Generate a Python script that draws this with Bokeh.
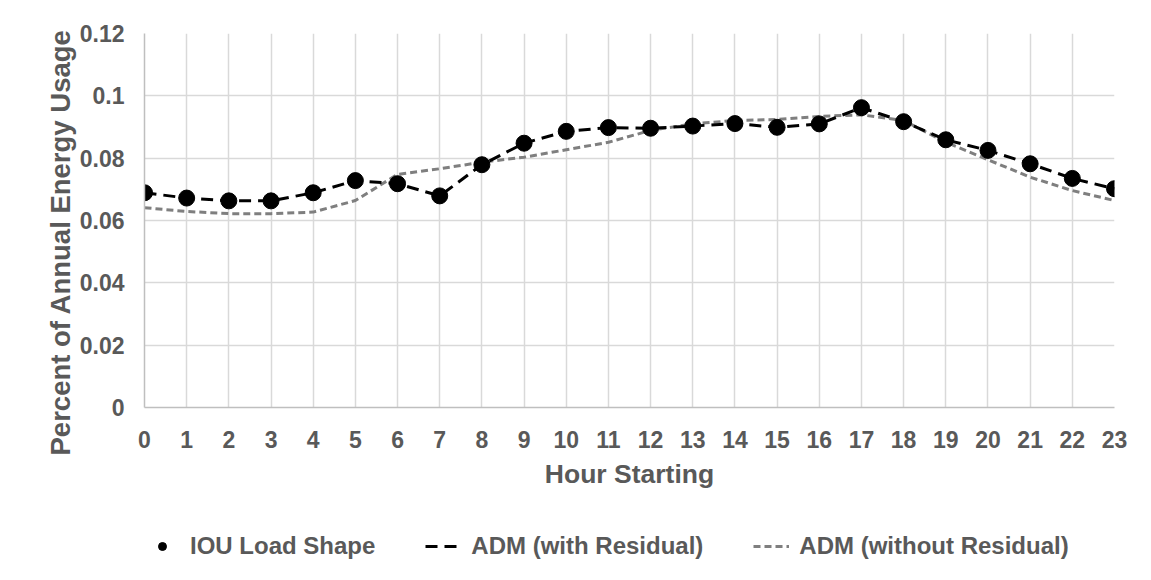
from bokeh.plotting import figure
from bokeh.layouts import column
from bokeh.models import FixedTicker, CustomJSTickFormatter, Legend, LegendItem, Range1d, Title
from bokeh.embed import file_html
from bokeh.resources import INLINE

hours = list(range(24))
iou_load_shape = [0.0689, 0.0672, 0.0663, 0.0663, 0.0689, 0.0728, 0.0718, 0.0679,
                  0.0779, 0.0848, 0.0886, 0.0898, 0.0896, 0.0903, 0.0911, 0.0899,
                  0.0910, 0.0962, 0.0917, 0.0859, 0.0825, 0.0782, 0.0735, 0.0702]
adm_with_residual = [0.0689, 0.0672, 0.0663, 0.0663, 0.0689, 0.0728, 0.0718, 0.0679,
                     0.0779, 0.0848, 0.0886, 0.0898, 0.0896, 0.0903, 0.0911, 0.0899,
                     0.0910, 0.0962, 0.0917, 0.0859, 0.0825, 0.0782, 0.0735, 0.0702]
adm_without_residual = [0.0641, 0.0629, 0.0622, 0.0622, 0.0627, 0.0664, 0.0748, 0.0766,
                        0.0787, 0.0803, 0.0827, 0.0851, 0.0889, 0.0910, 0.0921, 0.0924,
                        0.0934, 0.0939, 0.0921, 0.0851, 0.0795, 0.0739, 0.0696, 0.0664]
y_ticks = [0, 0.02, 0.04, 0.06, 0.08, 0.10, 0.12]
series_names = ["IOU Load Shape", "ADM (with Residual)", "ADM (without Residual)"]

FONT = "Liberation Sans"
TXT = "#595959"

p = figure(width=1151, height=491, output_backend="svg", toolbar_location=None,
           x_range=Range1d(0, 23), y_range=Range1d(0, 0.12),
           min_border_left=144, min_border_right=37, min_border_top=33, min_border_bottom=84)
p.outline_line_color = None

p.xaxis.ticker = FixedTicker(ticks=hours)
p.yaxis.ticker = FixedTicker(ticks=y_ticks)
p.yaxis.formatter = CustomJSTickFormatter(code="return tick === 0 ? '0' : String(parseFloat(tick.toFixed(2)));")

for ax in (p.xaxis[0], p.yaxis[0]):
    ax.major_tick_line_color = None
    ax.minor_tick_line_color = None
    ax.axis_line_color = "#bfbfbf"
    ax.axis_line_width = 1.5
    ax.major_label_text_font = FONT
    ax.major_label_text_font_style = "bold"
    ax.major_label_text_font_size = "23px"
    ax.major_label_text_color = TXT
    ax.axis_label_text_font = FONT
    ax.axis_label_text_font_style = "bold"
    ax.axis_label_text_font_size = "26.5px"
    ax.axis_label_text_color = TXT

p.xaxis.axis_label = "Hour Starting"
p.xaxis.major_label_standoff = 17
p.yaxis.major_label_standoff = 14
p.xaxis.axis_label_standoff = 8

ytitle = Title(text="Percent of Annual Energy Usage", align="left", offset=-48,
               text_font=FONT, text_font_style="bold", text_font_size="27.5px",
               text_color=TXT, standoff=2)
p.add_layout(ytitle, "left")

p.xgrid.grid_line_color = "#d9d9d9"
p.ygrid.grid_line_color = "#d9d9d9"
p.xgrid.grid_line_width = 1.5
p.ygrid.grid_line_width = 1.5

gray_style = dict(line_color="#7f7f7f", line_width=3, line_dash="7 4")
black_style = dict(line_color="black", line_width=3, line_dash="12 7")
dot_style = dict(size=16, marker="circle", fill_color="black", line_color="black")

p.line(hours, adm_without_residual, **gray_style)
p.line(hours, adm_with_residual, **black_style)
p.scatter(hours, iou_load_shape, **dot_style)

# legend strip below the chart (no axes, no data drawn)
q = figure(width=1151, height=85, output_backend="svg", toolbar_location=None,
           x_axis_type=None, y_axis_type=None,
           x_range=Range1d(0, 1), y_range=Range1d(0, 1),
           min_border_left=0, min_border_right=0, min_border_top=0, min_border_bottom=0)
q.grid.visible = False
q.outline_line_color = None
nan = float("nan")
lg_dot = q.scatter([nan], [nan], **dot_style)
lg_black = q.line([nan, nan], [nan, nan], **black_style)
lg_gray = q.line([nan, nan], [nan, nan], **gray_style)

legend = Legend(items=[
    LegendItem(label=series_names[0], renderers=[lg_dot]),
    LegendItem(label=series_names[1], renderers=[lg_black]),
    LegendItem(label=series_names[2], renderers=[lg_gray]),
], orientation="horizontal", location=(0, 16))
legend.label_text_font = FONT
legend.label_text_font_style = "bold"
legend.label_text_font_size = "24px"
legend.label_text_color = TXT
legend.border_line_color = None
legend.background_fill_alpha = 0
legend.glyph_width = 36
legend.spacing = 50
legend.label_standoff = 10
legend.margin = 0
legend.padding = 4
q.add_layout(legend, "center")

layout = column(p, q, spacing=0)
open("out.html", "w").write(file_html(layout, INLINE))
